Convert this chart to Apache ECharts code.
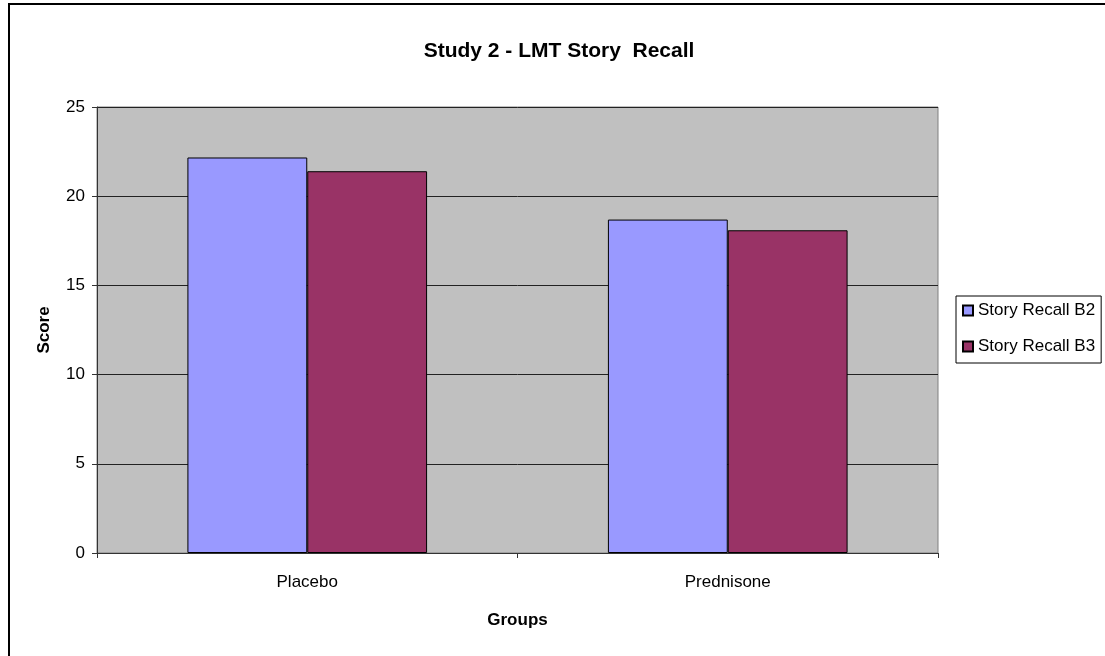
<!DOCTYPE html>
<html>
<head>
<meta charset="utf-8">
<script src="https://cdn.jsdelivr.net/npm/echarts@6/dist/echarts.min.js"></script>
<style>
  html, body { margin: 0; padding: 0; background: #fff; }
  #chart { width: 1105px; height: 656px; }
</style>
</head>
<body>
<div id="chart"></div>
<script>
var groups = ['Placebo', 'Prednisone'];
var recallB2 = [22.17, 18.69];
var recallB3 = [21.4, 18.09];
var seriesNames = ['Story Recall B2', 'Story Recall B3'];

var myChart = echarts.init(document.getElementById('chart'));
myChart.setOption({
    backgroundColor: '#fff',
    animation: false,
    textStyle: { fontFamily: 'Liberation Sans, Arial, sans-serif' },
    title: {
        text: 'Study 2 - LMT Story  Recall',
        left: 554,
        textAlign: 'center',
        top: 36,
        textStyle: { fontSize: 21, fontWeight: 'bold', color: '#000' }
    },
    // outer frame, only top and left edges show
    graphic: [{
        type: 'rect',
        shape: { x: 9, y: 4, width: 1200, height: 800 },
        style: { fill: 'none', stroke: '#000', lineWidth: 2 },
        silent: true
    }],
    legend: {
        orient: 'vertical',
        left: 956,
        top: 296,
        data: seriesNames,
        icon: 'rect',
        itemWidth: 10,
        itemHeight: 10,
        itemGap: 19,
        padding: [6, 6, 8, 6],
        borderColor: '#000',
        borderWidth: 1,
        backgroundColor: '#fff',
        textStyle: { fontSize: 17, color: '#000' }
    },
    grid: {
        left: 97,
        right: 167,
        top: 107,
        bottom: 103,
        show: true,
        backgroundColor: '#C0C0C0',
        borderColor: '#808080',
        borderWidth: 1
    },
    xAxis: {
        type: 'category',
        data: groups,
        name: 'Groups',
        nameLocation: 'middle',
        nameGap: 59,
        nameTextStyle: { fontSize: 17, fontWeight: 'bold', color: '#000' },
        axisLine: { lineStyle: { color: '#333', width: 1 } },
        axisTick: { show: true, length: 5, lineStyle: { color: '#333' } },
        axisLabel: { fontSize: 17, color: '#000', margin: 21 }
    },
    yAxis: {
        type: 'value',
        min: 0,
        max: 25,
        interval: 5,
        name: 'Score',
        nameLocation: 'middle',
        nameGap: 44,
        nameTextStyle: { fontSize: 17, fontWeight: 'bold', color: '#000' },
        axisLine: { show: true, lineStyle: { color: '#333', width: 1 } },
        axisTick: { show: true, length: 5, lineStyle: { color: '#333' } },
        axisLabel: { fontSize: 17, color: '#000', margin: 12 },
        splitLine: { show: true, lineStyle: { color: '#222', width: 1 } }
    },
    series: [{
        name: seriesNames[0],
        type: 'bar',
        data: recallB2,
        barGap: '0%',
        barCategoryGap: '43%',
        itemStyle: { color: '#9999FF', borderColor: '#000', borderWidth: 1 }
    }, {
        name: seriesNames[1],
        type: 'bar',
        data: recallB3,
        itemStyle: { color: '#993366', borderColor: '#000', borderWidth: 1 }
    }]
});
</script>
</body>
</html>
